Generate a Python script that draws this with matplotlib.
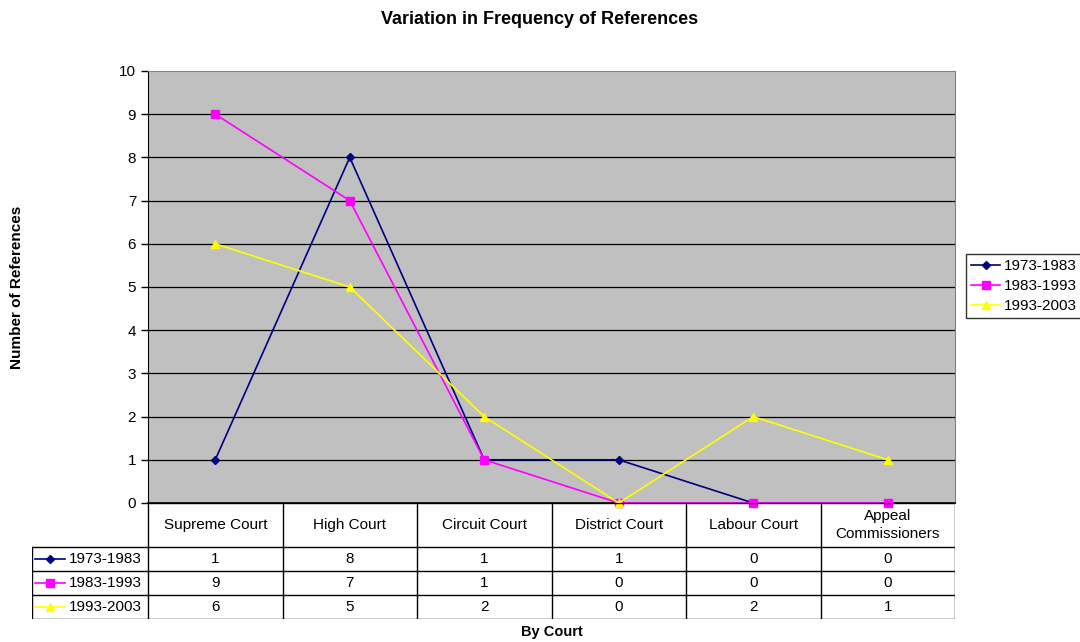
import matplotlib.pyplot as plt
from matplotlib.lines import Line2D

plt.rcParams['font.family'] = ['Liberation Sans', 'DejaVu Sans']

courts = ["Supreme Court", "High Court", "Circuit Court", "District Court",
          "Labour Court", "Appeal\nCommissioners"]
periods = ["1973-1983", "1983-1993", "1993-2003"]
refs_1973 = [1, 8, 1, 1, 0, 0]
refs_1983 = [9, 7, 1, 0, 0, 0]
refs_1993 = [6, 5, 2, 0, 2, 1]
series = [refs_1973, refs_1983, refs_1993]
colors = ["#000080", "#FF00FF", "#FFFF00"]
markers = ["D", "s", "^"]
msizes = [4.5, 5.5, 6]

W, H = 1080, 642
fig = plt.figure(figsize=(W / 100, H / 100), dpi=100)

# plot area in pixels
L, R, T, B = 148, 955, 71, 503
ax = fig.add_axes([L / W, 1 - B / H, (R - L) / W, (B - T) / H])
ax.set_facecolor("#C0C0C0")
x = list(range(len(courts)))
for vals, c, m, ms, lab in zip(series, colors, markers, msizes, periods):
    ax.plot(x, vals, color=c, marker=m, markersize=ms, linewidth=1.2,
            label=lab, clip_on=False, zorder=3)
ax.set_xlim(-0.5, len(courts) - 0.5)
ax.set_ylim(0, 10)
ax.set_yticks(range(0, 11))
ax.set_xticks([])
ax.tick_params(axis="y", direction="out", length=5, labelsize=11, width=1)
for v in range(1, 10):
    ax.axhline(v, color="black", linewidth=0.9, zorder=1)
ax.spines["left"].set_color("black")
ax.spines["bottom"].set_color("black")
ax.spines["bottom"].set_linewidth(1.2)
ax.spines["top"].set_color("#808080")
ax.spines["right"].set_color("#808080")
ax.set_ylabel("Number of References", fontsize=11, fontweight="bold")
ax.yaxis.set_label_coords(-(L - 24) / (R - L), 0.5)

fig.text(0.5, 1 - 19 / H, "Variation in Frequency of References",
         ha="center", va="center", fontsize=13, fontweight="bold")
fig.text((L + R) / 2 / W, 1 - 632 / H, "By Court", ha="center", va="center",
         fontsize=10.5, fontweight="bold")

# data table below the plot
TL, TB = 32, 619
unit = (R - L) / len(courts)
tx = fig.add_axes([TL / W, 1 - TB / H, (R - TL) / W, (TB - B) / H])
tx.set_xlim(-0.5 - (L - TL) / unit, len(courts) - 0.5)
tx.set_ylim(TB - B, 0)
tx.axis("off")
xl = -0.5 - (L - TL) / unit
hdr = 44
rowh = 24
lw = 1
# horizontal lines
tx.plot([-0.5, len(courts) - 0.5], [0, 0], color="black", lw=lw)
for i in range(len(periods) + 1):
    y = hdr + i * rowh
    tx.plot([xl, len(courts) - 0.5], [y, y], color="black", lw=lw)
# vertical lines
tx.plot([xl, xl], [hdr, TB - B], color="black", lw=lw)
for i in range(len(courts) + 1):
    tx.plot([i - 0.5, i - 0.5], [0, TB - B], color="black", lw=lw)
for i, name in enumerate(courts):
    tx.text(i, hdr / 2, name, ha="center", va="center", fontsize=11,
            linespacing=1.4)
for r, (vals, c, m, ms, lab) in enumerate(zip(series, colors, markers, msizes, periods)):
    yc = hdr + r * rowh + rowh / 2
    tx.plot([xl + 3 / unit, xl + 33 / unit], [yc, yc], color=c, lw=1.2)
    tx.plot([xl + 18 / unit], [yc], color=c, marker=m, markersize=ms)
    tx.text(xl + 37 / unit, yc, lab, ha="left", va="center", fontsize=11)
    for i, v in enumerate(vals):
        tx.text(i, yc, str(v), ha="center", va="center", fontsize=11)

handles = [Line2D([], [], color=c, marker=m, markersize=ms, lw=1.2)
           for c, m, ms in zip(colors, markers, msizes)]
fig.legend(handles, periods, loc="center left",
           bbox_to_anchor=(966 / W, 1 - 286 / H), fontsize=11, frameon=True,
           fancybox=False, edgecolor="black", handlelength=1.9,
           handletextpad=0.2, borderpad=0.35, labelspacing=0.4,
           borderaxespad=0)

fig.savefig("out.png", dpi=100)
